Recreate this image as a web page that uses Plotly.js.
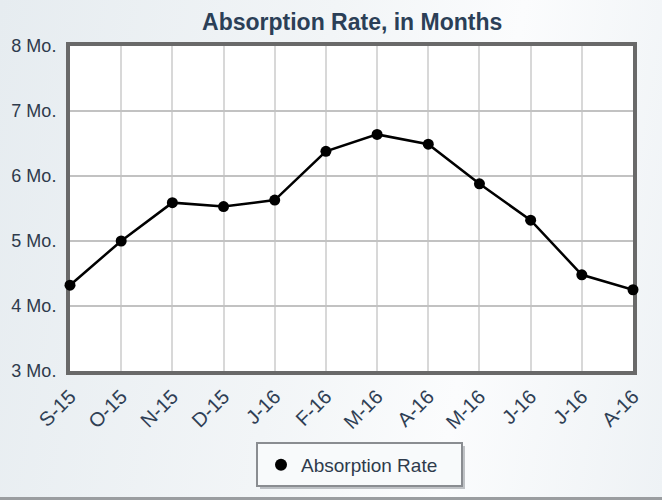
<!DOCTYPE html>
<html>
<head>
<meta charset="utf-8">
<script src="https://cdn.plot.ly/plotly-3.0.1.min.js"></script>
<style>
html,body{margin:0;padding:0;}
body{width:662px;height:500px;overflow:hidden;
background:linear-gradient(100deg,#e6ecf0 0%,#f2f5f7 45%,#fbfcfd 70%,#eef2f5 100%);}
#chart{width:662px;height:500px;position:relative;}
#bline{position:absolute;left:0;top:497px;width:662px;height:3px;background:#9a9da0;}
</style>
</head>
<body>
<div id="chart"></div>
<div id="bline"></div>
<script>
var months = ["S-15","O-15","N-15","D-15","J-16","F-16","M-16","A-16","M-16","J-16","J-16","A-16"];
var absorptionRate = [4.32, 5.0, 5.59, 5.53, 5.63, 6.38, 6.64, 6.49, 5.88, 5.32, 4.48, 4.25];
var yTicks = [3, 4, 5, 6, 7, 8];
var yTickLabels = ["3 Mo.", "4 Mo.", "5 Mo.", "6 Mo.", "7 Mo.", "8 Mo."];

var idx = months.map(function(_, i){ return i; });

var lineTrace = {
  x: idx, y: absorptionRate,
  type: 'scatter', mode: 'lines',
  name: 'Absorption Rate', showlegend: false,
  line: {color: '#000000', width: 2.5},
  cliponaxis: false
};
var markerTrace = {
  x: idx, y: absorptionRate,
  type: 'scatter', mode: 'markers',
  name: 'Absorption Rate', showlegend: true,
  marker: {color: '#000000', size: 11},
  cliponaxis: false
};

// plot area in px: x 70..633, y 46..371
var L = 70, R = 633, T = 46, B = 371;
var W = R - L, H = B - T;
function px(x){ return (x - L) / W; }
function py(y){ return (B - y) / H; }

var layout = {
  width: 662, height: 500,
  paper_bgcolor: 'rgba(0,0,0,0)',
  plot_bgcolor: '#ffffff',
  margin: {l: L, r: 662 - R, t: T, b: 500 - B, pad: 0},
  font: {family: 'Liberation Sans, Arial, sans-serif', color: '#2f3b4c'},
  title: {
    text: '<b>Absorption Rate, in Months</b>',
    font: {size: 23, color: '#2b3f57', family: 'Liberation Sans, Arial, sans-serif'},
    x: 0.532, xanchor: 'center', y: 0.956, yanchor: 'middle'
  },
  xaxis: {
    range: [0, 11],
    tickvals: idx,
    ticktext: months,
    tickangle: -45,
    tickfont: {size: 20, color: '#2f3f55'},
    showgrid: true, gridcolor: '#d8d8d8', gridwidth: 2,
    zeroline: false,
    showline: true, mirror: true, linecolor: '#696969', linewidth: 4,
    layer: 'below traces',
    ticks: '', ticklabelstandoff: 2, fixedrange: true
  },
  yaxis: {
    range: [3, 8],
    tickvals: yTicks,
    ticktext: yTickLabels,
    tickfont: {size: 18, color: '#2f3b4c'},
    showgrid: true, gridcolor: '#c2c2c2', gridwidth: 2,
    zeroline: false,
    showline: true, mirror: true, linecolor: '#696969', linewidth: 4,
    layer: 'below traces',
    ticks: '', ticklabelstandoff: 6, fixedrange: true
  },
  showlegend: true,
  legend: {
    orientation: 'h',
    x: px(352), xanchor: 'center',
    y: py(465), yanchor: 'middle',
    bgcolor: 'rgba(0,0,0,0)',
    borderwidth: 0,
    itemsizing: 'constant',
    font: {size: 19, color: '#2f3b4c'}
  },
  shapes: [
    // plot area shadow
    {type: 'rect', xref: 'paper', yref: 'paper', layer: 'below',
     x0: px(L + 4), x1: px(R + 4), y0: py(B + 4), y1: py(T + 4),
     line: {width: 0}, fillcolor: 'rgba(120,125,130,0.35)'},
    // white cover for plot area
    {type: 'rect', xref: 'paper', yref: 'paper', layer: 'below',
     x0: 0, x1: 1, y0: 0, y1: 1,
     line: {width: 0}, fillcolor: '#ffffff'},
    // legend shadow
    {type: 'rect', xref: 'paper', yref: 'paper', layer: 'below',
     x0: px(260), x1: px(465), y0: py(489), y1: py(446),
     line: {width: 0}, fillcolor: 'rgba(120,125,130,0.45)'},
    // legend box
    {type: 'rect', xref: 'paper', yref: 'paper', layer: 'below',
     x0: px(257), x1: px(462), y0: py(486), y1: py(443),
     line: {width: 2, color: '#8a8d91'}, fillcolor: '#f8fafb'}
  ]
};

Plotly.newPlot('chart', [lineTrace, markerTrace], layout, {displayModeBar: false, staticPlot: true});
</script>
</body>
</html>
